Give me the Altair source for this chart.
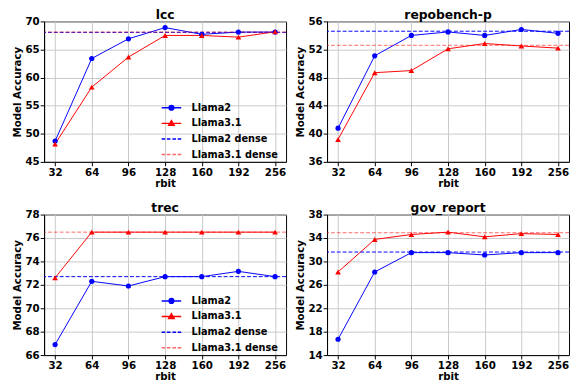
import altair as alt
import pandas as pd

rbit = ["32", "64", "96", "128", "160", "192", "256"]
tasks = ["lcc", "repobench-p", "trec", "gov_report"]

llama2 = {
    "lcc": [48.7, 63.4, 66.9, 68.9, 67.7, 68.1, 68.1],
    "repobench-p": [40.8, 51.1, 54.0, 54.5, 54.0, 54.85, 54.3],
    "trec": [66.9, 72.3, 71.9, 72.7, 72.7, 73.15, 72.7],
    "gov_report": [16.7, 28.2, 31.5, 31.5, 31.1, 31.5, 31.5],
}
llama31 = {
    "lcc": [48.2, 58.3, 63.65, 67.5, 67.5, 67.2, 68.15],
    "repobench-p": [39.2, 48.7, 49.0, 52.1, 52.85, 52.5, 52.2],
    "trec": [72.6, 76.5, 76.5, 76.5, 76.5, 76.5, 76.5],
    "gov_report": [28.2, 33.75, 34.6, 35.0, 34.2, 34.75, 34.6],
}
llama2_dense = {"lcc": 68.05, "repobench-p": 54.6, "trec": 72.7, "gov_report": 31.6}
llama31_dense = {"lcc": 68.1, "repobench-p": 52.6, "trec": 76.5, "gov_report": 34.9}

y_domain = {"lcc": [45, 70], "repobench-p": [36, 56], "trec": [66, 78], "gov_report": [14, 38]}
y_ticks = {
    "lcc": [45, 50, 55, 60, 65, 70],
    "repobench-p": [36, 40, 44, 48, 52, 56],
    "trec": [66, 68, 70, 72, 74, 76, 78],
    "gov_report": [14, 18, 22, 26, 30, 34, 38],
}

series = ["Llama2", "Llama3.1", "Llama2 dense", "Llama3.1 dense"]
BLUE = "#0000ff"
RED = "#ff0000"

legend_paths = [
    "M-1.5,0H1.5M-0.36,0A0.36,0.36,0,1,0,0.36,0A0.36,0.36,0,1,0,-0.36,0Z",
    "M-1.5,0H1.5M0,-0.42L0.42,0.3L-0.42,0.3Z",
    "M-1.5,0H-0.95M-0.7,0H-0.15M0.15,0H0.7M0.95,0H1.5",
    "M-1.5,0H-0.95M-0.7,0H-0.15M0.15,0H0.7M0.95,0H1.5",
]

FONT = "DejaVu Sans"


def panel(task):
    df = pd.DataFrame({
        "rbit": rbit * 2,
        "acc": llama2[task] + llama31[task],
        "series": ["Llama2"] * 7 + ["Llama3.1"] * 7,
    })
    x = alt.X("rbit:O", sort=rbit,
              scale=alt.Scale(type="point", padding=0.3),
              axis=alt.Axis(title="rbit", labelAngle=0, labelPadding=2, titlePadding=1))
    y = alt.Y("acc:Q",
              scale=alt.Scale(domain=y_domain[task], nice=False, zero=False),
              axis=alt.Axis(title="Model Accuracy", values=y_ticks[task], tickCount=20,
                            format="d", labelPadding=1, titlePadding=3))
    base = alt.Chart(df)
    d2 = base.transform_filter(alt.datum.series == "Llama2")
    d3 = base.transform_filter(alt.datum.series == "Llama3.1")
    line2 = d2.mark_line(color=BLUE, strokeWidth=1).encode(x=x, y=y)
    pts2 = d2.mark_point(shape="circle", filled=True, color=BLUE, size=28, opacity=1).encode(x=x, y=y)
    line3 = d3.mark_line(color=RED, strokeWidth=1).encode(x=x, y=y)
    pts3 = d3.mark_point(shape="triangle-up", filled=True, color=RED, size=34, opacity=1).encode(x=x, y=y)

    dense_df = pd.DataFrame({"acc": [llama2_dense[task], llama31_dense[task]],
                             "series": ["Llama2 dense", "Llama3.1 dense"]})
    rule2 = alt.Chart(dense_df).transform_filter(alt.datum.series == "Llama2 dense").mark_rule(
        color=BLUE, strokeWidth=1, strokeDash=[4, 2]).encode(y="acc:Q")
    rule3 = alt.Chart(dense_df).transform_filter(alt.datum.series == "Llama3.1 dense").mark_rule(
        color=RED, strokeWidth=1, strokeDash=[4, 2], opacity=0.6).encode(y="acc:Q")

    leg = alt.Legend(title=None, orient="none", legendX=123, legendY=81,
                     labelFont=FONT, labelFontSize=10, labelFontWeight="bold",
                     labelColor="black", symbolSize=178, symbolStrokeWidth=1.5,
                     labelOffset=13, rowPadding=3, padding=0)
    leg_df = pd.DataFrame({"series": series, "acc": [0.0] * 4, "rbit": ["32"] * 4})
    legend_layer = alt.Chart(leg_df).transform_filter("datum.acc > 1000").mark_point(
        filled=True, opacity=1).encode(
        x=x, y=y,
        shape=alt.Shape("series:N", scale=alt.Scale(domain=series, range=legend_paths), legend=leg),
        fill=alt.Fill("series:N", scale=alt.Scale(domain=series, range=[BLUE, RED, BLUE, RED]), legend=leg),
        stroke=alt.Stroke("series:N", scale=alt.Scale(domain=series, range=[BLUE, RED, BLUE, "#ff6666"]), legend=leg),
    )

    return alt.layer(line2, line3, rule2, rule3, pts2, pts3, legend_layer).properties(
        width=248, height=144, title=task)


top = alt.hconcat(panel("lcc"), panel("repobench-p"), spacing=7)
bottom = alt.hconcat(panel("trec"), panel("gov_report"), spacing=7)
chart = alt.vconcat(top, bottom, spacing=11).resolve_scale(
    x="independent", y="independent", shape="independent", fill="independent", stroke="independent"
).properties(padding={"left": 3, "top": -5, "right": 0, "bottom": 0}).configure_view(
    stroke="black", strokeWidth=1
).configure_axis(
    labelFont=FONT, labelFontSize=10.5, labelFontWeight="bold", labelColor="black",
    titleFont=FONT, titleFontSize=10.5, titleFontWeight="bold", titleColor="black",
    domainColor="black", tickColor="black", tickSize=4,
    gridColor="#c8c8c8", gridWidth=1, grid=True,
).configure_title(
    font=FONT, fontSize=12.6, fontWeight="bold", color="black", offset=-5
)

chart.save("out.html", embed_options={"renderer": "svg", "actions": False})
